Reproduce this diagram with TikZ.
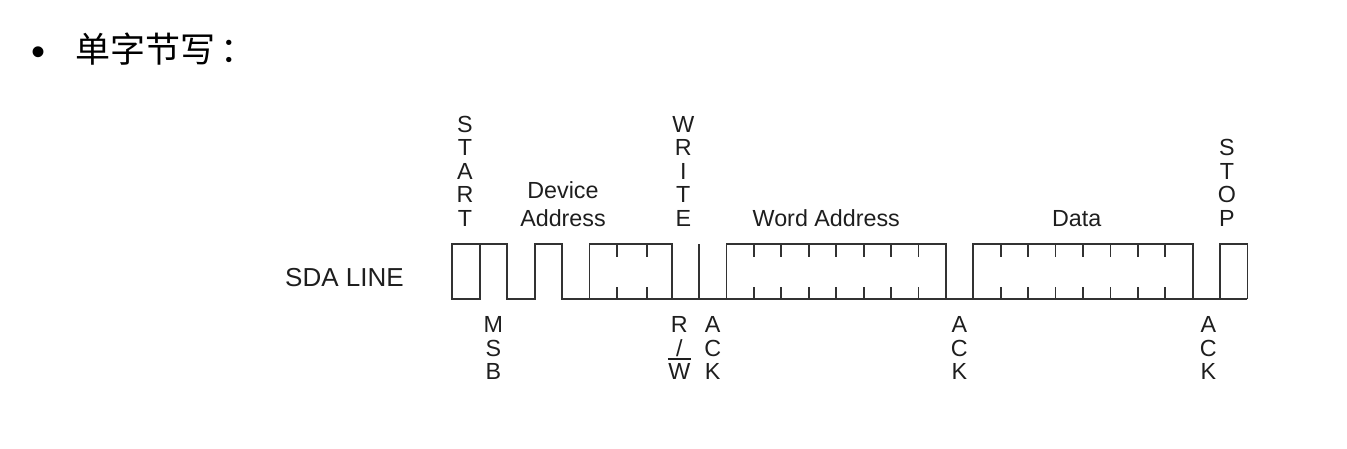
\documentclass[tikz,border=0pt]{standalone}
\usepackage{fontspec}
\setmainfont{Liberation Sans}
\newfontfamily\cjk{Noto Sans CJK SC}
\definecolor{sigcol}{RGB}{50,50,50}
\definecolor{txtcol}{RGB}{30,30,30}
\newcommand\barW{\leavevmode\vbox{\hrule height 1.5pt width 23pt\kern 4pt\hbox to 23pt{\hss W\hss}}}
\begin{document}
\begin{tikzpicture}[x=1pt,y=-1pt,
  sig/.style={draw=sigcol,line width=1.8pt,line join=miter},
  lbl/.style={font=\fontsize{23.3}{23.6}\selectfont,text=txtcol,align=center,inner sep=0pt,text depth=0pt,anchor=south},
  wlbl/.style={font=\fontsize{23.3}{27.7}\selectfont,text=txtcol,align=center,inner sep=0pt,text depth=0pt,anchor=south}]
\path[use as bounding box] (0,0) rectangle (1347,448);
\def\T{244.3}\def\B{299.3}
% heading
\node[font=\fontsize{40}{40}\selectfont,inner sep=0pt,anchor=center] (bullet) at (39,56) {•};
\node[font=\cjk\fontsize{35}{35}\selectfont,inner sep=0pt,anchor=base west,text depth=0pt] (head) at (75.5,62.5) {单字节写\hspace{5pt}：};
% SDA label
\node[font=\fontsize{26}{26}\selectfont,text=txtcol,inner sep=0pt,anchor=base west] (sda) at (285,286.7) {SDA LINE};
% waveform
\draw[sig] (479.7,\T) -- (479.7,\B) -- (452.3,\B) -- (452.3,\T) -- (507.1,\T) -- (507.1,\B) -- (534.6,\B) -- (534.6,\T) -- (562,\T) -- (562,\B) -- (1247.4,\B);
\draw[sig] (589.4,\B) -- (589.4,\T) -- (671.7,\T) -- (671.7,\B);
\draw[sig] (699,\B) -- (699,\T);
\draw[sig] (726.5,\B) -- (726.5,\T) -- (945.9,\T) -- (945.9,\B);
\draw[sig] (973.3,\B) -- (973.3,\T) -- (1192.6,\T) -- (1192.6,\B);
\draw[sig] (1220,\B) -- (1220,\T) -- (1247.4,\T) -- (1247.4,\B);
\foreach \x in {616.8,647,753.9,781.3,808.8,836.2,863.6,891,918.4,1000.7,1028.1,1055.5,1083,1110.4,1137.8,1165.2}{
  \draw[sig] (\x,\T) -- (\x,256.5);
  \draw[sig] (\x,\B) -- (\x,287.1);
}
% top labels
\node[lbl] (start) at (465,226.7) {S\\T\\A\\R\\T};
\node[wlbl] (dev) at (563,226.7) {Device\\Address};
\node[lbl] (write) at (683.3,226.7) {W\\R\\I\\T\\E};
\node[lbl] (word) at (826.3,226.7) {Word Address};
\node[lbl] (data) at (1076.7,226.7) {Data};
\node[lbl] (stop) at (1227,226.7) {S\\T\\O\\P};
% bottom labels
\node[lbl] (msb) at (493.3,380) {M\\S\\B};
\node[lbl] (rw) at (679.3,380) {R\\/\\\barW};
\node[lbl] (ack1) at (712.7,380) {A\\C\\K};
\node[lbl] (ack2) at (959.3,380) {A\\C\\K};
\node[lbl] (ack3) at (1208.3,380) {A\\C\\K};
\end{tikzpicture}
\end{document}
